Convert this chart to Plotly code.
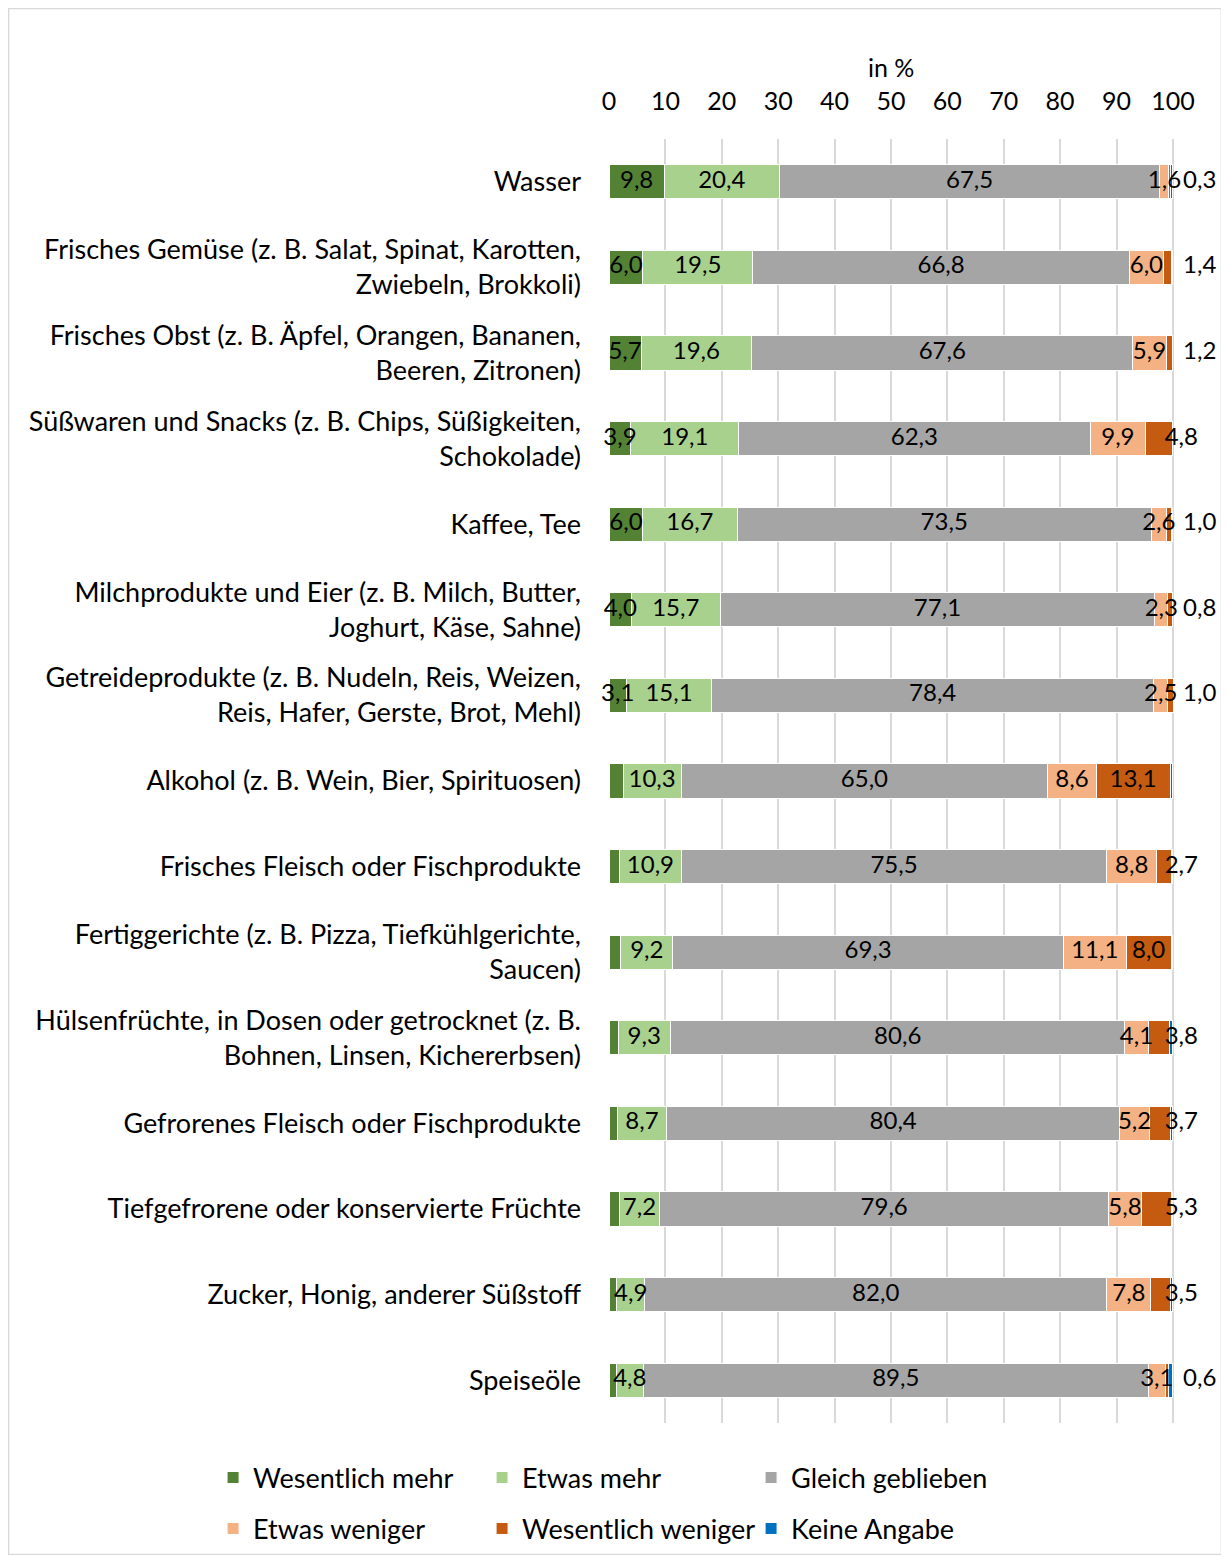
import plotly.graph_objects as go

# Kategorien (von oben nach unten)
categories = [
    "Wasser",
    "Frisches Gemüse (z. B. Salat, Spinat, Karotten,<br>Zwiebeln, Brokkoli)",
    "Frisches Obst (z. B. Äpfel, Orangen, Bananen,<br>Beeren, Zitronen)",
    "Süßwaren und Snacks (z. B. Chips, Süßigkeiten,<br>Schokolade)",
    "Kaffee, Tee",
    "Milchprodukte und Eier (z. B. Milch, Butter,<br>Joghurt, Käse, Sahne)",
    "Getreideprodukte (z. B. Nudeln, Reis, Weizen,<br>Reis, Hafer, Gerste, Brot, Mehl)",
    "Alkohol (z. B. Wein, Bier, Spirituosen)",
    "Frisches Fleisch oder Fischprodukte",
    "Fertiggerichte (z. B. Pizza, Tiefkühlgerichte,<br>Saucen)",
    "Hülsenfrüchte, in Dosen oder getrocknet (z. B.<br>Bohnen, Linsen, Kichererbsen)",
    "Gefrorenes Fleisch oder Fischprodukte",
    "Tiefgefrorene oder konservierte Früchte",
    "Zucker, Honig, anderer Süßstoff",
    "Speiseöle",
]

wesentlich_mehr = [9.8, 6.0, 5.7, 3.9, 6.0, 4.0, 3.1, 2.5, 1.9, 2.1, 1.6, 1.5, 1.8, 1.4, 1.3]
etwas_mehr = [20.4, 19.5, 19.6, 19.1, 16.7, 15.7, 15.1, 10.3, 10.9, 9.2, 9.3, 8.7, 7.2, 4.9, 4.8]
gleich = [67.5, 66.8, 67.6, 62.3, 73.5, 77.1, 78.4, 65.0, 75.5, 69.3, 80.6, 80.4, 79.6, 82.0, 89.5]
etwas_weniger = [1.6, 6.0, 5.9, 9.9, 2.6, 2.3, 2.5, 8.6, 8.8, 11.1, 4.1, 5.2, 5.8, 7.8, 3.1]
wesentlich_weniger = [0.3, 1.4, 1.2, 4.8, 1.0, 0.8, 1.0, 13.1, 2.7, 8.0, 3.8, 3.7, 5.3, 3.5, 0.6]
keine_angabe = [0.4, 0.3, 0.0, 0.0, 0.2, 0.1, 0.0, 0.5, 0.2, 0.3, 0.6, 0.5, 0.3, 0.4, 0.7]

# Welche Segmente in der Vorlage beschriftet sind
labeled_wm = [True] * 7 + [False] * 8

series = [
    ("Wesentlich mehr", wesentlich_mehr, "#548235"),
    ("Etwas mehr", etwas_mehr, "#A9D18E"),
    ("Gleich geblieben", gleich, "#A5A5A5"),
    ("Etwas weniger", etwas_weniger, "#F4B183"),
    ("Wesentlich weniger", wesentlich_weniger, "#C55A11"),
    ("Keine Angabe", keine_angabe, "#0070C0"),
]

FONT = "Lato"
PX_PER_UNIT = 5.64  # Breite von 1 % in Pixel


def fmt(v):
    return f"{v:.1f}".replace(".", ",")


fig = go.Figure()

base = [0.0] * len(categories)
for i, (name, vals, color) in enumerate(series):
    fig.add_trace(go.Bar(
        y=categories, x=vals, name=name, orientation="h",
        marker=dict(color=color, line=dict(color="white", width=1)),
        legend="legend" if i < 3 else "legend2",
        hoverinfo="skip",
    ))
    xs, ys, ts, pos = [], [], [], []
    for j, v in enumerate(vals):
        if name == "Keine Angabe":
            continue
        if name == "Wesentlich mehr" and not labeled_wm[j]:
            continue
        center = base[j] + v / 2
        p = "middle center"
        if name == "Wesentlich weniger":
            if v < 2:
                center, p = 101.8, "middle right"
            elif v < 6:
                center = 101.5
        xs.append(center)
        ys.append(categories[j])
        ts.append(fmt(v))
        pos.append(p)
    if xs:
        fig.add_trace(go.Scatter(
            x=xs, y=ys, mode="text", text=ts, textposition=pos,
            textfont=dict(family=FONT, size=24, color="black"),
            showlegend=False, hoverinfo="skip", cliponaxis=False,
        ))
    base = [b + v for b, v in zip(base, vals)]

W, H = 1214, 1547
L, T = 601, 131
XMAX = 108
plot_w = XMAX * PX_PER_UNIT
plot_h = 1284
R = W - L - plot_w
B = H - T - plot_h

fig.update_layout(
    barmode="stack",
    bargap=0.6,
    width=W, height=H,
    margin=dict(l=L, r=R, t=T, b=B, autoexpand=False),
    plot_bgcolor="white",
    paper_bgcolor="white",
    font=dict(family=FONT, size=27, color="black"),
    legend=dict(orientation="h", x=(205 - L) / plot_w, y=-0.0428, xanchor="left", yanchor="middle",
                entrywidth=224, font=dict(size=27), traceorder="normal",
                bgcolor="rgba(0,0,0,0)"),
    legend2=dict(orientation="h", x=(205 - L) / plot_w, y=-0.0825, xanchor="left", yanchor="middle",
                 entrywidth=224, font=dict(size=27), traceorder="normal",
                 bgcolor="rgba(0,0,0,0)"),
    shapes=[dict(type="rect", xref="paper", yref="paper",
                 x0=(0.5 - L) / plot_w, x1=(W - 0.5 - L) / plot_w,
                 y0=-(H - 0.5 - T - plot_h) / plot_h, y1=1 + (T - 0.5) / plot_h,
                 line=dict(color="#D9D9D9", width=1.5), layer="below")],
    annotations=[dict(text="in %", x=50, xref="x", y=1 + (T - 59) / plot_h, yref="paper",
                      showarrow=False, yanchor="middle", font=dict(size=25))],
)

fig.update_xaxes(
    side="top", range=[0, XMAX], tickvals=list(range(0, 101, 10)),
    showgrid=True, gridcolor="#D9D9D9", gridwidth=2,
    zeroline=False, showline=False,
    ticks="", ticklabelstandoff=23,
    tickfont=dict(size=25),
)
fig.update_yaxes(
    range=[len(categories) - 0.5, -0.5],
    showgrid=False, zeroline=False, showline=False,
    ticks="", ticklabelstandoff=27, tickfont=dict(size=27),
)

fig.write_html("out.html")
